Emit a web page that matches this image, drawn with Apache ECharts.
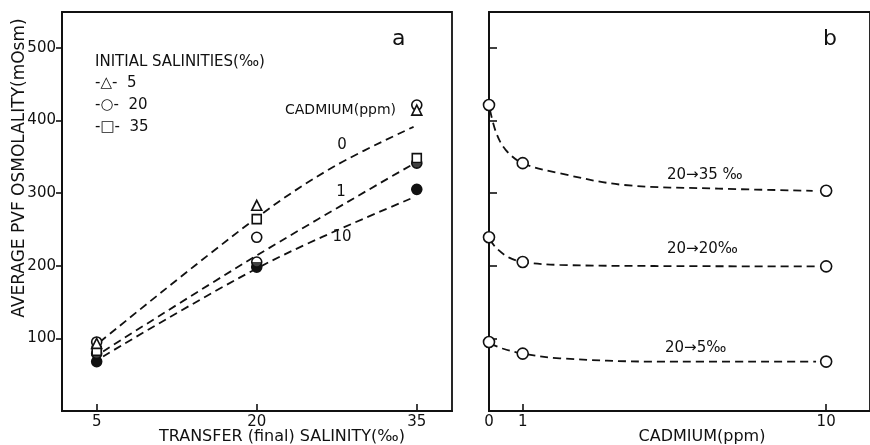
<!DOCTYPE html>
<html>
<head>
<meta charset="utf-8">
<script src="https://cdn.jsdelivr.net/npm/echarts@6/dist/echarts.min.js"></script>
<style>
  html, body { margin: 0; padding: 0; background: #fff; }
  #chart { width: 870px; height: 445px; }
</style>
</head>
<body>
<div id="chart"></div>
<script>
// ---- Panel a: PVF osmolality vs transfer (final) salinity ----
const salinityTicks = [5, 20, 35];
const osmTicks = [100, 200, 300, 400, 500];

// Measured means: symbol shape = initial salinity, fill = cadmium level
const init5Cd0  = [[5, 93], [20, 283], [35, 414]];   // triangles
const init20Cd0 = [[5, 95], [20, 239], [35, 421]];   // open circles
const init35Cd0 = [[5, 83], [20, 264], [35, 348]];   // squares
const init20Cd1 = [[5, 79], [20, 205], [35, 341]];   // half-filled circles
const init20Cd10 = [[5, 68], [20, 198], [35, 305]];  // filled circles

// Dashed fitted curves, one per cadmium level
const fitCd0  = [[5.3, 95], [20, 266], [27.2, 336], [34.7, 391]];
const fitCd1  = [[5.6, 82], [20, 214], [34.8, 341]];
const fitCd10 = [[5.6, 75], [20.9, 203], [34.4, 292]];

// ---- Panel b: PVF osmolality vs cadmium, 20 ‰ animals ----
const cadmiumTicks = [0, 1, 10];
const cadmium = [0, 1, 10];
const to35 = [421, 341, 303];
const to20 = [239, 205, 199];
const to5  = [95, 79, 68];

// Dashed decay curves drawn through each set
const curve35 = [[0.03, 414], [0.22, 382], [0.5, 359], [1, 341], [2.1, 327], [4, 311], [6.8, 306], [9.6, 303]];
const curve20 = [[0.03, 236], [0.22, 224], [0.6, 211], [1, 205], [2.1, 201], [4.9, 199.5], [9.7, 199]];
const curve5  = [[0.03, 93], [0.4, 86], [1, 79], [2.1, 72.5], [4.9, 68], [9.7, 68]];

const INK = '#111';
const FONT = 'DejaVu Sans';

const zip = (xs, ys) => xs.map((x, i) => [x, ys[i]]);

function dashed(data, xi) {
  return {
    type: 'line', data, xAxisIndex: xi, yAxisIndex: xi,
    smooth: 0.35, symbol: 'none', silent: true, z: 2,
    lineStyle: { color: INK, width: 1.8, type: [8, 5] }
  };
}
function marks(data, xi, symbol, size, filled, extra) {
  return Object.assign({
    type: 'scatter', data, xAxisIndex: xi, yAxisIndex: xi,
    symbol, symbolSize: size, clip: false, z: 4,
    itemStyle: { color: filled ? INK : '#fff', borderColor: INK, borderWidth: 1.6, opacity: 1 }
  }, extra || {});
}

const axisLineStyle = { lineStyle: { color: INK, width: 1.9 } };

const option = {
  animation: false,
  backgroundColor: '#fff',
  textStyle: { fontFamily: FONT, color: INK },
  grid: [
    { left: 62, top: 12, width: 390, height: 399, show: true, borderColor: INK, borderWidth: 1.8, backgroundColor: 'transparent' },
    { left: 489, top: 12, width: 400.4, height: 399, show: true, borderColor: INK, borderWidth: 1.8, backgroundColor: 'transparent' }
  ],
  xAxis: [
    {
      gridIndex: 0, type: 'value', min: 1.75, max: 38.3,
      axisLine: axisLineStyle, splitLine: { show: false },
      axisTick: { inside: true, length: 7, lineStyle: { color: INK, width: 1.6 }, customValues: salinityTicks },
      axisLabel: { color: INK, fontFamily: FONT, fontSize: 15, margin: 4, customValues: salinityTicks }
    },
    {
      gridIndex: 1, type: 'value', min: 0, max: 11.3,
      axisLine: axisLineStyle, splitLine: { show: false },
      axisTick: { inside: true, length: 7, lineStyle: { color: INK, width: 1.6 }, customValues: cadmiumTicks.filter(v => v > 0) },
      axisLabel: { color: INK, fontFamily: FONT, fontSize: 15, margin: 4, customValues: cadmiumTicks }
    }
  ],
  yAxis: [
    {
      gridIndex: 0, type: 'value', min: 0, max: 549,
      axisLine: axisLineStyle, splitLine: { show: false },
      axisTick: { inside: false, length: 6, lineStyle: { color: INK, width: 1.6 }, customValues: osmTicks },
      axisLabel: { color: INK, fontFamily: FONT, fontSize: 15, margin: 6, customValues: osmTicks }
    },
    {
      gridIndex: 1, type: 'value', min: 0, max: 549,
      axisLine: axisLineStyle, splitLine: { show: false },
      axisTick: { inside: true, length: 8, lineStyle: { color: INK, width: 1.6 }, customValues: osmTicks },
      axisLabel: { show: false }
    }
  ],
  series: [
    dashed(fitCd0, 0),
    dashed(fitCd1, 0),
    dashed(fitCd10, 0),
    marks(init20Cd0, 0, 'circle', 10, false),
    marks(init20Cd10, 0, 'circle', 10, true),
    marks(init20Cd1, 0, 'circle', 10, false),
    // lower half of the 1 ppm circles is solid
    marks(init20Cd1, 0, 'path://M0,0 A5,5 0 0 0 10,0 Z', [10, 5], true,
      { symbolOffset: [0, 2.5], itemStyle: { color: INK, borderWidth: 0 } }),
    marks(init35Cd0, 0, 'rect', 9, false),
    marks(init5Cd0, 0, 'triangle', 10, false),

    dashed(curve35, 1),
    dashed(curve20, 1),
    dashed(curve5, 1),
    marks(zip(cadmium, to35), 1, 'circle', 11, false),
    marks(zip(cadmium, to20), 1, 'circle', 11, false),
    marks(zip(cadmium, to5), 1, 'circle', 11, false)
  ],
  graphic: [
    // panel letters
    { type: 'text', left: 392, top: 28, style: { text: 'a', font: '22px ' + FONT, fill: INK } },
    { type: 'text', left: 823, top: 28, style: { text: 'b', font: '22px ' + FONT, fill: INK } },
    // key for initial salinities
    { type: 'text', x: 95, y: 62, style: { text: 'INITIAL SALINITIES(‰)', font: '15px ' + FONT, fill: INK, verticalAlign: 'middle' } },
    { type: 'text', x: 95, y: 83, style: { text: '-△-  5', font: '15px ' + FONT, fill: INK, verticalAlign: 'middle' } },
    { type: 'text', x: 95, y: 105, style: { text: '-○-  20', font: '15px ' + FONT, fill: INK, verticalAlign: 'middle' } },
    { type: 'text', x: 95, y: 127, style: { text: '-□-  35', font: '15px ' + FONT, fill: INK, verticalAlign: 'middle' } },
    // cadmium curve labels
    { type: 'text', x: 285, y: 110, style: { text: 'CADMIUM(ppm)', font: '14px ' + FONT, fill: INK, verticalAlign: 'middle' } },
    { type: 'text', x: 342, y: 145, style: { text: '0', font: '15px ' + FONT, fill: INK, align: 'center', verticalAlign: 'middle' } },
    { type: 'text', x: 341, y: 192, style: { text: '1', font: '15px ' + FONT, fill: INK, align: 'center', verticalAlign: 'middle' } },
    { type: 'text', x: 342, y: 237, style: { text: '10', font: '15px ' + FONT, fill: INK, align: 'center', verticalAlign: 'middle' } },
    // transfer labels in panel b
    { type: 'text', x: 667, y: 175, style: { text: '20→35 ‰', font: '15px ' + FONT, fill: INK, verticalAlign: 'middle' } },
    { type: 'text', x: 667, y: 249, style: { text: '20→20‰', font: '15px ' + FONT, fill: INK, verticalAlign: 'middle' } },
    { type: 'text', x: 665, y: 348, style: { text: '20→5‰', font: '15px ' + FONT, fill: INK, verticalAlign: 'middle' } },
    // axis titles
    { type: 'text', x: 20, y: 168, rotation: Math.PI / 2,
      style: { text: 'AVERAGE PVF OSMOLALITY(mOsm)', font: '17px ' + FONT, fill: INK, align: 'center', verticalAlign: 'middle' } },
    { type: 'text', x: 282, y: 437, style: { text: 'TRANSFER (final) SALINITY(‰)', font: '16px ' + FONT, fill: INK, align: 'center', verticalAlign: 'middle' } },
    { type: 'text', x: 702, y: 437, style: { text: 'CADMIUM(ppm)', font: '16px ' + FONT, fill: INK, align: 'center', verticalAlign: 'middle' } }
  ]
};

const chart = echarts.init(document.getElementById('chart'), null, { renderer: 'canvas' });
chart.setOption(option);
</script>
</body>
</html>
